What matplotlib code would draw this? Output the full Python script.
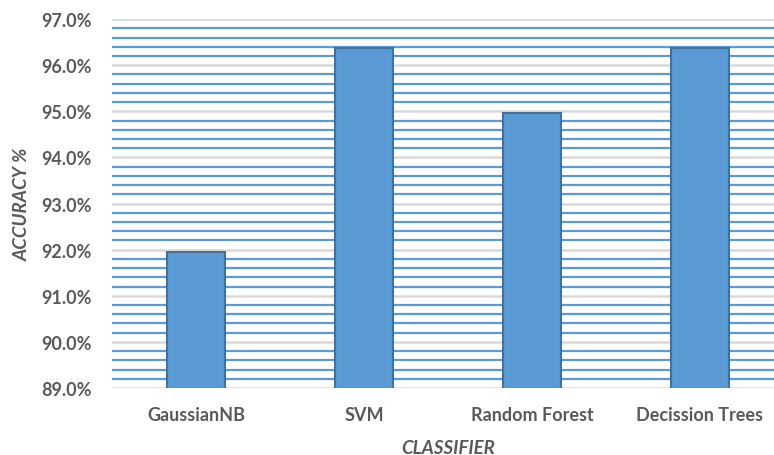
import matplotlib
matplotlib.use('Agg')
import matplotlib.pyplot as plt
from matplotlib.ticker import MultipleLocator, FuncFormatter

# Classifier accuracies (%):
classifiers = ['GaussianNB', 'SVM', 'Random Forest', 'Decission Trees']
accuracy = [91.96, 96.38, 94.97, 96.38]

plt.rcParams['font.family'] = ['Lato', 'DejaVu Sans']
textGray = '#595959'

fig = plt.figure(figsize=(7.74, 4.56), dpi=100)
ax = fig.add_axes([0.1447, 0.1469, 0.868, 0.809])

# Bars:
ax.bar(range(len(classifiers)), accuracy, width=0.345, color='#5B9BD5',
       edgecolor='#41719C', linewidth=1.5, zorder=3)

# Axis limits and ticks:
ax.set_xlim(-0.5, 3.5)
ax.set_ylim(89, 97)
ax.yaxis.set_major_locator(MultipleLocator(1))
ax.yaxis.set_minor_locator(MultipleLocator(0.2))
ax.yaxis.set_major_formatter(FuncFormatter(lambda v, p: f'{v:.1f}%'))
ax.set_xticks(range(len(classifiers)))
ax.set_xticklabels(classifiers)

# Gridlines: gray major, blue minor:
ax.grid(which='major', axis='y', color='#D9D9D9', linewidth=1.8, zorder=1)
ax.grid(which='minor', axis='y', color='#5B9BD5', linewidth=1.6, zorder=1)
ax.set_axisbelow(True)

for s in ax.spines.values():
    s.set_visible(False)
ax.tick_params(which='both', length=0)
ax.tick_params(axis='y', pad=14.5, labelsize=13, labelcolor=textGray)
ax.tick_params(axis='x', pad=13, labelsize=13, labelcolor=textGray)
for lbl in ax.get_xticklabels() + ax.get_yticklabels():
    lbl.set_fontweight('bold')

# Axis titles:
ax.set_ylabel('ACCURACY %', fontsize=13.5, fontweight='bold', fontstyle='italic',
              color=textGray)
ax.yaxis.set_label_coords((22 - 112) / 672, 0.5)
ax.yaxis.label.set_va('center')
ax.set_xlabel('CLASSIFIER', fontsize=13.5, fontweight='bold', fontstyle='italic',
              color=textGray)
ax.xaxis.set_label_coords((448 - 112) / 672, (388 - 448) / 369)
ax.xaxis.label.set_va('center')

fig.savefig('out.png', dpi=100)
